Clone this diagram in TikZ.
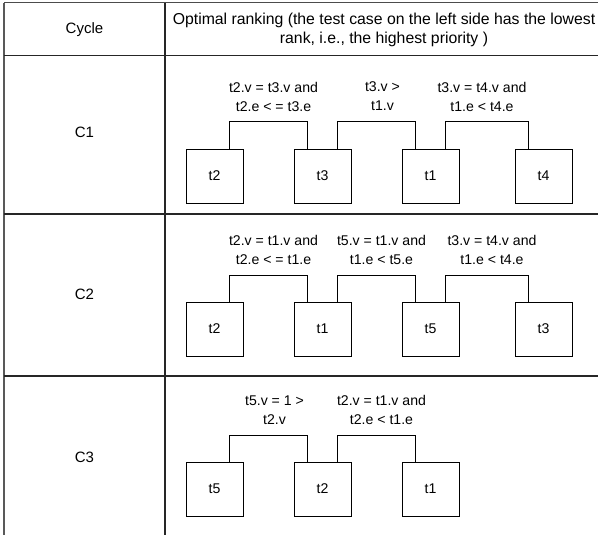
\documentclass[tikz,border=0pt]{standalone}
\usepackage{fontspec}
\setmainfont{Liberation Sans}

\tikzset{
  tc/.style={draw, line width=0.8pt, minimum width=57pt, minimum height=54pt, inner sep=0pt},
  cond/.style={align=center, inner sep=0pt},
  cell/.style={font=\fontsize{15}{19}\selectfont},
  link/.style={line width=0.8pt},
  grid/.style={line width=1.6pt, black!85}
}

\begin{document}
\begin{tikzpicture}[x=1pt, y=-1pt, font=\fontsize{14.1}{19}\selectfont]
  \useasboundingbox (0,0) rectangle (598,535);

  % table
  \draw[line width=1pt, black!70] (4,3) -- (598,3);
  \draw[line width=1.6pt, black!65] (4,3) -- (4,535);
  \draw[grid] (165,3) -- (165,535);
  \draw[grid] (4,55.5) -- (598,55.5);
  \draw[grid] (4,214) -- (598,214);
  \draw[grid] (4,376) -- (598,376);

  \node[cell] (hcycle) at (84.5,30) {Cycle};
  \node[align=center, font=\fontsize{15.8}{19}\selectfont] (hrank) at (384,30) {Optimal ranking (the test case on the left side has the lowest\\rank, i.e., the highest priority )};
  \node[cell] (cyc1) at (84.5,132) {C1};
  \node[cell] (cyc2) at (84.5,294) {C2};
  \node[cell] (cyc3) at (84.5,457) {C3};

  % C1
  \node[tc] (c1t2) at (214.5,176) {t2};
  \node[tc] (c1t3) at (322.5,176) {t3};
  \node[tc] (c1t1) at (430.5,176) {t1};
  \node[tc] (c1t4) at (543.5,176) {t4};
  \draw[link] ([xshift=-14pt]c1t2.north east) -- ++(0,-27) -| node[pos=0.25, cond, xshift=5pt, yshift=25pt] {t2.v = t3.v and\\t2.e < = t3.e} ([xshift=14pt]c1t3.north west);
  \draw[link] ([xshift=-14pt]c1t3.north east) -- ++(0,-27) -| node[pos=0.25, cond, xshift=6pt, yshift=25pt] {t3.v >\\t1.v} ([xshift=14pt]c1t1.north west);
  \draw[link] ([xshift=-14pt]c1t1.north east) -- ++(0,-27) -| node[pos=0.25, cond, xshift=-5pt, yshift=25pt] {t3.v = t4.v and\\t1.e < t4.e} ([xshift=14pt]c1t4.north west);

  % C2
  \node[tc] (c2t2) at (214.5,329) {t2};
  \node[tc] (c2t1) at (322.5,329) {t1};
  \node[tc] (c2t5) at (430.5,329) {t5};
  \node[tc] (c2t3) at (543.5,329) {t3};
  \draw[link] ([xshift=-14pt]c2t2.north east) -- ++(0,-26.5) -| node[pos=0.25, cond, xshift=5pt, yshift=25.5pt] {t2.v = t1.v and\\t2.e < = t1.e} ([xshift=14pt]c2t1.north west);
  \draw[link] ([xshift=-14pt]c2t1.north east) -- ++(0,-26.5) -| node[pos=0.25, cond, xshift=5pt, yshift=25.5pt] {t5.v = t1.v and\\t1.e < t5.e} ([xshift=14pt]c2t5.north west);
  \draw[link] ([xshift=-14pt]c2t5.north east) -- ++(0,-26.5) -| node[pos=0.25, cond, xshift=5pt, yshift=25.5pt] {t3.v = t4.v and\\t1.e < t4.e} ([xshift=14pt]c2t3.north west);

  % C3
  \node[tc] (c3t5) at (214.5,489) {t5};
  \node[tc] (c3t2) at (322.5,489) {t2};
  \node[tc] (c3t1) at (430.5,489) {t1};
  \draw[link] ([xshift=-14pt]c3t5.north east) -- ++(0,-26.5) -| node[pos=0.25, cond, xshift=6pt, yshift=25pt] {t5.v = 1 >\\t2.v} ([xshift=14pt]c3t2.north west);
  \draw[link] ([xshift=-14pt]c3t2.north east) -- ++(0,-26.5) -| node[pos=0.25, cond, xshift=5pt, yshift=25pt] {t2.v = t1.v and\\t2.e < t1.e} ([xshift=14pt]c3t1.north west);
\end{tikzpicture}
\end{document}
